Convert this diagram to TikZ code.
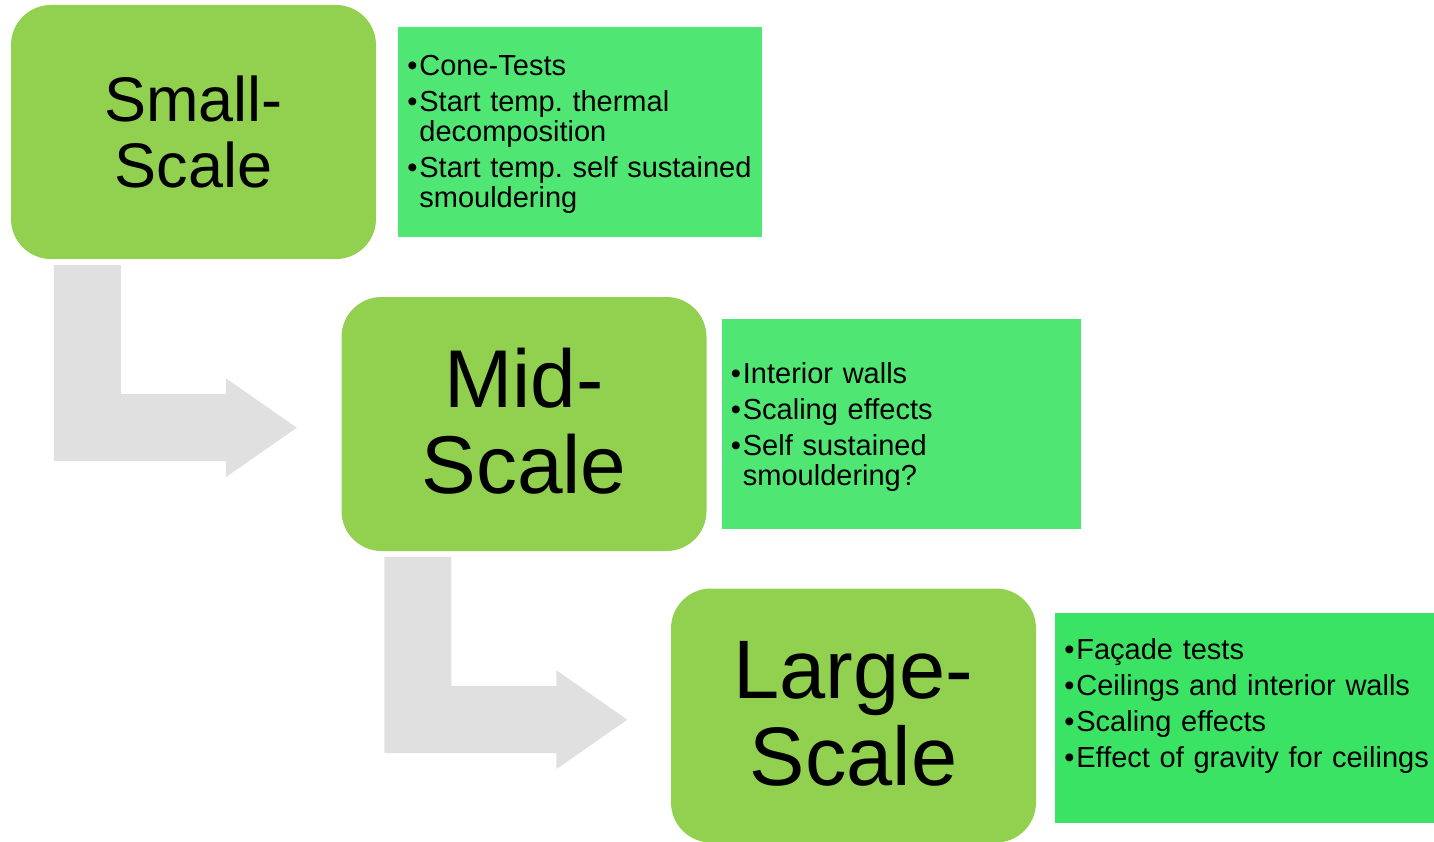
\documentclass[tikz,border=0pt]{standalone}
\usepackage{fontspec}
\setmainfont{Liberation Sans}
\usetikzlibrary{positioning}

\definecolor{levelgreen}{HTML}{92D050}
\definecolor{infogreen}{HTML}{4FE673}
\definecolor{infogreendark}{HTML}{3BE364}
\definecolor{arrowgrey}{HTML}{E0E0E0}

% one bullet point with hanging indent
\newcommand{\bulletline}[1]{\par\hangindent=12pt\hangafter=1\makebox[12pt][l]{\textbullet}#1}
% empty space under the last line
\newcommand{\padbelow}[1]{\rule[-#1]{0pt}{#1}}
% grey bent arrow, drawn from its top left corner
\newcommand{\bentarrow}[1]{\fill [arrowgrey] (#1) -- ++(67,0) -- ++(0,129) -- ++(105,0) -- ++(0,-16)
  -- ++(71,49.5) -- ++(-71,49.5) -- ++(0,-16) -- ++(-172,0) -- cycle;}

\tikzset{
  levelbox/.style={fill=levelgreen, rounded corners=40pt, minimum width=365pt,
    minimum height=254pt, align=center, inner sep=0pt},
  infobox/.style={fill=infogreen, minimum height=210pt, inner xsep=9pt, inner ysep=0pt,
    align=left, font=\fontsize{29}{30}\selectfont,
    execute at begin node={\setlength{\parskip}{6pt}\setlength{\parindent}{0pt}%
      \frenchspacing\hyphenpenalty=10000}},
}

\begin{document}
\begin{tikzpicture}[x=1pt, y=-1pt]
  \useasboundingbox (0, 0) rectangle (1434, 842);
  % the three scales
  \node [levelbox, font=\fontsize{63}{66}\selectfont] (small) at (193.5, 132) {Small-\\Scale};
  \node [levelbox, font=\fontsize{82}{86}\selectfont] (mid) at (524, 424) {Mid-\\Scale\padbelow{6pt}};
  \node [levelbox, font=\fontsize{83}{87}\selectfont] (large) at (853.5, 715.5) {Large-\\Scale\padbelow{4pt}};
  % what is tested at each scale
  \node [infobox, text width=346pt, right=22pt of small] (smallinfo) {%
    \bulletline{Cone-Tests}
    \bulletline{Start temp. thermal\newline decomposition}
    \bulletline{Start temp. self sustained\newline smouldering\padbelow{16pt}}\par};
  \node [infobox, text width=341pt, right=15pt of mid] (midinfo) {%
    \bulletline{Interior walls}
    \bulletline{Scaling effects}
    \bulletline{Self sustained\newline smouldering?\padbelow{16pt}}\par};
  \node [infobox, fill=infogreendark, text width=370pt, right=19pt of large, yshift=-2.5pt] (largeinfo) {%
    \bulletline{Façade tests}
    \bulletline{Ceilings and interior walls}
    \bulletline{Scaling effects}
    \bulletline{Effect of gravity for ceilings\padbelow{46pt}}\par};
  % arrows from one scale to the next
  \coordinate [below right=6pt and 43pt of small.south west] (smalltomid);
  \coordinate [below right=6pt and 43pt of mid.south west] (midtolarge);
  \bentarrow{smalltomid}
  \bentarrow{midtolarge}
\end{tikzpicture}
\end{document}
